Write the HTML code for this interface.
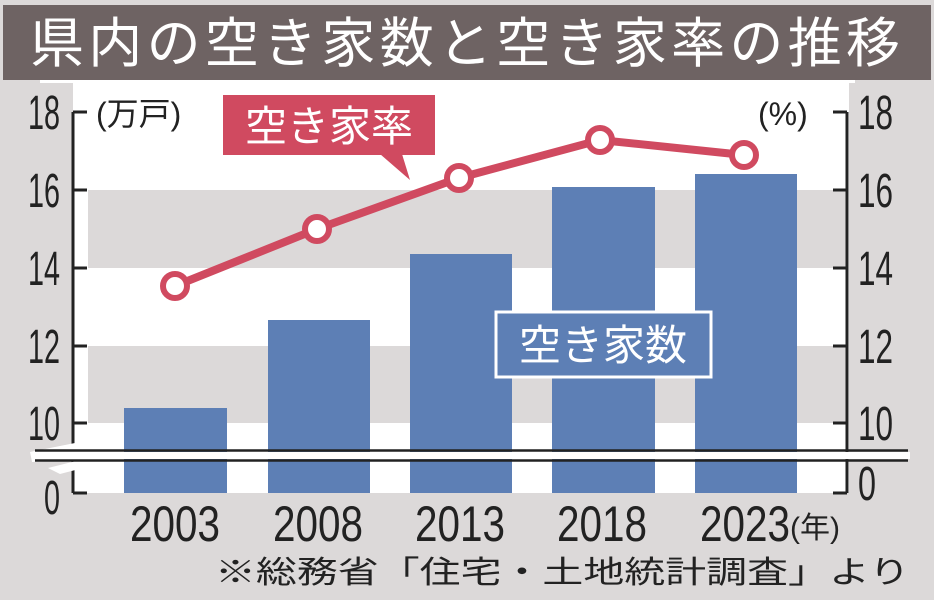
<!DOCTYPE html>
<html><head><meta charset="utf-8"><style>
body{margin:0;background:#dcd9d9}
svg{display:block}
text{font-family:"Liberation Sans","Noto Sans CJK JP",sans-serif}
.n{fill:#222}
</style></head><body>
<svg width="934" height="600" viewBox="0 0 934 600" xmlns="http://www.w3.org/2000/svg">
<rect width="934" height="600" fill="#dcd9d9"/>
<rect x="3" y="5" width="928" height="75" fill="#6e6363"/>
<text x="465" y="62" text-anchor="middle" font-size="54" fill="#fff" textLength="870" lengthAdjust="spacing">県内の空き家数と空き家率の推移</text>
<rect x="40" y="80" width="815" height="3" fill="#fff"/>
<rect x="73" y="83" width="776" height="410" fill="#fff"/>
<rect x="88" y="190" width="759" height="78" fill="#dcd9d9"/>
<rect x="88" y="346" width="759" height="77" fill="#dcd9d9"/>
<g fill="#5d7fb5">
<rect x="124" y="408" width="103" height="85"/>
<rect x="268" y="320" width="102" height="173"/>
<rect x="410" y="254" width="102" height="239"/>
<rect x="552" y="187" width="103" height="306"/>
<rect x="695" y="174" width="102" height="319"/>
</g>
<g stroke="#222" stroke-width="3" fill="none">
<path d="M73 112V493 M73 112h14 M73 190h14 M73 268h14 M73 346h14 M73 423h14 M73 493h14"/>
<path d="M847 112V493 M847 112h-14 M847 190h-14 M847 268h-14 M847 346h-14 M847 423h-14 M847 493h-14"/>
</g>
<path d="M30 452 L90 440 L104 446 L68 456 L106 462 L60 474 L48 468 L80 460 L32 462Z" fill="#fff"/>
<rect x="35" y="452" width="875" height="7" fill="#fff"/>
<path d="M35 450.5H908 M35 460.5H908" stroke="#222" stroke-width="2.5"/>
<g class="n" font-size="48" lengthAdjust="spacingAndGlyphs">
<text x="28" y="129" textLength="32" lengthAdjust="spacingAndGlyphs">18</text>
<text x="28" y="207" textLength="32" lengthAdjust="spacingAndGlyphs">16</text>
<text x="28" y="285" textLength="32" lengthAdjust="spacingAndGlyphs">14</text>
<text x="28" y="363" textLength="32" lengthAdjust="spacingAndGlyphs">12</text>
<text x="28" y="440" textLength="32" lengthAdjust="spacingAndGlyphs">10</text>
<text x="44" y="514" textLength="16" lengthAdjust="spacingAndGlyphs">0</text>
<text x="858" y="129" textLength="35" lengthAdjust="spacingAndGlyphs">18</text>
<text x="858" y="207" textLength="35" lengthAdjust="spacingAndGlyphs">16</text>
<text x="858" y="285" textLength="35" lengthAdjust="spacingAndGlyphs">14</text>
<text x="858" y="363" textLength="35" lengthAdjust="spacingAndGlyphs">12</text>
<text x="858" y="440" textLength="35" lengthAdjust="spacingAndGlyphs">10</text>
<text x="858" y="500" textLength="18" lengthAdjust="spacingAndGlyphs">0</text>
</g>
<g class="n" font-size="50">
<text x="130" y="541" textLength="90" lengthAdjust="spacingAndGlyphs">2003</text>
<text x="273" y="541" textLength="90" lengthAdjust="spacingAndGlyphs">2008</text>
<text x="415" y="541" textLength="90" lengthAdjust="spacingAndGlyphs">2013</text>
<text x="557" y="541" textLength="90" lengthAdjust="spacingAndGlyphs">2018</text>
<text x="700" y="541" textLength="90" lengthAdjust="spacingAndGlyphs">2023</text>
</g>
<text x="790" y="538" font-size="30" fill="#222">(年)</text>
<text x="96" y="125" font-size="32" fill="#222">(万戸)</text>
<text x="758" y="125" font-size="32" fill="#222">(%)</text>
<path d="M175 286 L317 229 L459 178 L600 140 L744 155" stroke="#d04a60" stroke-width="8" fill="none"/>
<g fill="#fff" stroke="#d04a60" stroke-width="6">
<circle cx="175" cy="286" r="12"/><circle cx="317" cy="229" r="12"/><circle cx="459" cy="178" r="12"/><circle cx="600" cy="140" r="12"/><circle cx="744" cy="155" r="12"/>
</g>
<rect x="223" y="95" width="212" height="60" fill="#d04a60"/>
<path d="M380 154 L410 180 L402 154Z" fill="#d04a60"/>
<text x="329" y="141" text-anchor="middle" font-size="42" fill="#fff">空き家率</text>
<rect x="496" y="312" width="215" height="65" fill="#5d7fb5" stroke="#fff" stroke-width="3"/>
<text x="603" y="360" text-anchor="middle" font-size="42" fill="#fff">空き家数</text>
<text x="910" y="583" text-anchor="end" font-size="31" fill="#222" textLength="695" lengthAdjust="spacingAndGlyphs">※総務省「住宅・土地統計調査」より</text>
</svg>
</body></html>
